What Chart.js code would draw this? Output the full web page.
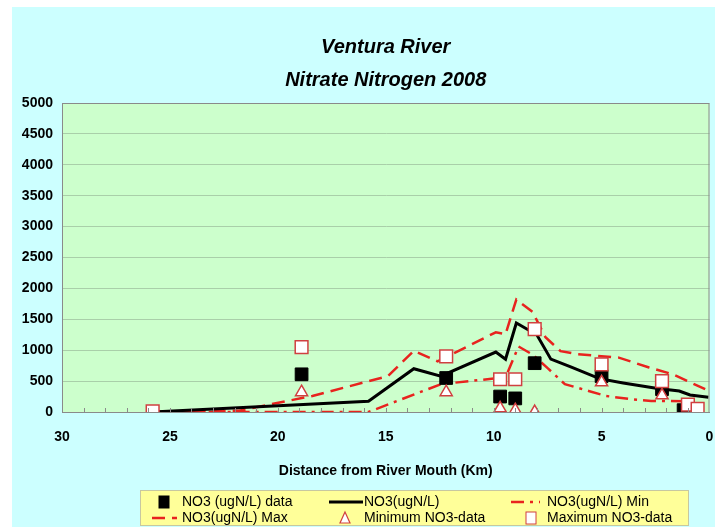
<!DOCTYPE html>
<html>
<head>
<meta charset="utf-8">
<script src="https://cdn.jsdelivr.net/npm/chart.js@4/dist/chart.umd.min.js"></script>
<style>
  html, body { margin: 0; padding: 0; background: #fff; }
  #wrap { width: 720px; height: 527px; }
</style>
</head>
<body>
<div id="wrap"><canvas id="myChart" width="720" height="527"></canvas></div>
<script>
// distances (km from river mouth) and NO3 values
const dataKm   = [18.9, 12.2, 9.7, 9.0, 8.1, 5.0, 2.2, 1.2];
const dataNO3  = [610, 550, 250, 220, 790, 580, 370, 30];

const minKm    = [18.9, 12.2, 9.7, 9.0, 8.1, 5.0, 2.2];
const minNO3   = [320, 320, 60, 30, 0, 480, 270];

const maxKm    = [25.8, 18.9, 12.2, 9.7, 9.0, 8.1, 5.0, 2.2, 1.0, 0.55];
const maxNO3   = [10, 1050, 900, 530, 530, 1340, 770, 500, 120, 50];

// model curves
const modelKm  = [25.8, 15.8, 13.7, 12.45, 9.9, 9.45, 8.95, 8.0, 7.35, 6.4, 5.1, 4.0, 2.4, 1.4, 0.9, 0.05];
const modelNO3 = [0, 175, 700, 580, 970, 855, 1440, 1250, 855, 725, 540, 470, 380, 340, 275, 240];

const modelMaxKm  = [25.8, 21.8, 18.4, 14.9, 13.7, 12.6, 9.9, 9.45, 8.95, 8.2, 7.6, 6.9, 6.1, 4.2, 2.8, 1.7, 0.2];
const modelMaxNO3 = [0, 20, 260, 580, 990, 820, 1290, 1260, 1820, 1620, 1210, 985, 935, 880, 720, 610, 370];

const modelMinKm  = [25.8, 15.8, 12.45, 9.9, 9.45, 8.85, 8.2, 7.5, 6.7, 5.6, 4.8, 3.7, 2.7, 1.1, 0.6];
const modelMinNO3 = [0, 0, 450, 545, 560, 1060, 930, 710, 450, 340, 260, 210, 180, 175, 120];

const xTicks = [30, 25, 20, 15, 10, 5, 0];
const yTicks = [0, 500, 1000, 1500, 2000, 2500, 3000, 3500, 4000, 4500, 5000];

const titleLines = ['Ventura River', 'Nitrate Nitrogen 2008'];

const RED = '#e8231e';

function pts(xs, ys) {
  return xs.map((x, i) => ({ x: x, y: ys[i] }));
}

// backgrounds, plot border, inside minor ticks, title
const decor = {
  id: 'decor',
  beforeDraw(chart) {
    const { ctx, chartArea: a } = chart;
    ctx.save();
    ctx.fillStyle = '#ffffff';
    ctx.fillRect(0, 0, chart.width, chart.height);
    ctx.fillStyle = '#ccffff';
    ctx.fillRect(12, 7, 703, 520);
    ctx.fillStyle = '#ccffcc';
    ctx.fillRect(a.left, a.top, a.right - a.left, a.bottom - a.top);
    ctx.restore();
  },
  afterDatasetsDraw(chart) {
    const { ctx, chartArea: a, scales } = chart;
    ctx.save();
    ctx.strokeStyle = '#8a8a8a';
    ctx.lineWidth = 1;
    ctx.strokeRect(a.left + 0.5, a.top + 0.5, a.right - a.left - 1, a.bottom - a.top);
    // minor tick marks every km, pointing into the plot
    ctx.beginPath();
    for (let k = 1; k < 30; k++) {
      const px = Math.round(scales.x.getPixelForValue(k)) + 0.5;
      ctx.moveTo(px, a.bottom);
      ctx.lineTo(px, a.bottom - 4);
    }
    ctx.stroke();
    // title
    ctx.fillStyle = '#000';
    ctx.font = 'italic bold 20px "Liberation Sans", Arial, sans-serif';
    ctx.textAlign = 'center';
    ctx.textBaseline = 'middle';
    const cx = (a.left + a.right) / 2;
    ctx.fillText(titleLines[0], cx, 47);
    ctx.fillText(titleLines[1], cx, 80);
    ctx.restore();
  }
};

// legend box in the style of the original (3 columns x 2 rows)
const boxLegend = {
  id: 'boxLegend',
  afterDraw(chart) {
    const { ctx } = chart;
    const ds = chart.data.datasets;
    ctx.save();
    ctx.fillStyle = '#ffff99';
    ctx.fillRect(140, 490, 549, 36);
    ctx.strokeStyle = '#c8c8a0';
    ctx.strokeRect(140.5, 490.5, 548, 35);
    ctx.font = '14px "Liberation Sans", Arial, sans-serif';
    ctx.textBaseline = 'middle';
    ctx.textAlign = 'left';
    const r1 = 502, r2 = 518;

    const items = [
      { ds: ds[2], kind: 'rect',  mx: 164, tx: 182, y: r1 },
      { ds: ds[3], kind: 'line',  mx: 329, mx2: 363, tx: 364, y: r1 },
      { ds: ds[5], kind: 'line',  mx: 511, mx2: 540, tx: 547, y: r1 },
      { ds: ds[4], kind: 'line',  mx: 152, mx2: 177, tx: 182, y: r2 },
      { ds: ds[1], kind: 'tri',   mx: 345, tx: 364, y: r2 },
      { ds: ds[0], kind: 'rect',  mx: 531, tx: 547, y: r2 }
    ];
    items.forEach(it => {
      const d = it.ds;
      if (it.kind === 'line') {
        ctx.strokeStyle = d.borderColor;
        ctx.lineWidth = d.borderWidth;
        ctx.setLineDash(d.borderDash || []);
        ctx.beginPath();
        ctx.moveTo(it.mx, it.y);
        ctx.lineTo(it.mx2, it.y);
        ctx.stroke();
        ctx.setLineDash([]);
      } else if (it.kind === 'rect') {
        ctx.fillStyle = d.pointBackgroundColor;
        ctx.strokeStyle = d.pointBorderColor;
        ctx.lineWidth = 1;
        ctx.fillRect(it.mx - 5, it.y - 6, 10, 12);
        ctx.strokeRect(it.mx - 5, it.y - 6, 10, 12);
      } else {
        ctx.fillStyle = d.pointBackgroundColor;
        ctx.strokeStyle = d.pointBorderColor;
        ctx.lineWidth = 1.2;
        ctx.beginPath();
        ctx.moveTo(it.mx, it.y - 6);
        ctx.lineTo(it.mx + 5, it.y + 5);
        ctx.lineTo(it.mx - 5, it.y + 5);
        ctx.closePath();
        ctx.fill();
        ctx.stroke();
      }
      ctx.fillStyle = '#000';
      ctx.fillText(d.label, it.tx, it.y);
    });
    ctx.restore();
  }
};

const config = {
  type: 'scatter',
  data: {
    datasets: [
      {
        label: 'Maximum NO3-data',
        data: pts(maxKm, maxNO3),
        pointStyle: 'rect',
        pointRadius: 9,
        pointBackgroundColor: '#ffffff',
        pointBorderColor: '#d04040',
        pointBorderWidth: 1.5,
        showLine: false,
        order: 0
      },
      {
        label: 'Minimum NO3-data',
        data: pts(minKm, minNO3),
        pointStyle: 'triangle',
        pointRadius: 7,
        pointBackgroundColor: '#ffffff',
        pointBorderColor: '#d04040',
        pointBorderWidth: 1.5,
        showLine: false,
        order: 1
      },
      {
        label: 'NO3 (ugN/L) data',
        data: pts(dataKm, dataNO3),
        pointStyle: 'rect',
        pointRadius: 9,
        pointBackgroundColor: '#000000',
        pointBorderColor: '#000000',
        pointBorderWidth: 1,
        showLine: false,
        order: 2
      },
      {
        label: 'NO3(ugN/L)',
        data: pts(modelKm, modelNO3),
        showLine: true,
        borderColor: '#000000',
        borderWidth: 3,
        pointRadius: 0,
        tension: 0,
        order: 3
      },
      {
        label: 'NO3(ugN/L) Max',
        data: pts(modelMaxKm, modelMaxNO3),
        showLine: true,
        borderColor: RED,
        borderWidth: 2.5,
        borderDash: [13, 7],
        pointRadius: 0,
        tension: 0,
        order: 4
      },
      {
        label: 'NO3(ugN/L) Min',
        data: pts(modelMinKm, modelMinNO3),
        showLine: true,
        borderColor: RED,
        borderWidth: 2.5,
        borderDash: [13, 6, 3, 6],
        pointRadius: 0,
        tension: 0,
        order: 5
      }
    ]
  },
  options: {
    responsive: false,
    animation: false,
    layout: { padding: { left: 12, right: 8, top: 103, bottom: 40 } },
    plugins: {
      legend: { display: false },
      title: { display: false },
      tooltip: { enabled: false }
    },
    scales: {
      x: {
        type: 'linear',
        reverse: true,
        min: 0,
        max: 30,
        afterFit(scale) { scale.height = 75; },
        afterBuildTicks(scale) { scale.ticks = xTicks.map(v => ({ value: v })); },
        border: { display: true, color: '#8a8a8a' },
        grid: {
          display: true,
          drawOnChartArea: false,
          drawTicks: true,
          tickLength: 14,
          tickColor: 'rgba(0,0,0,0)'
        },
        ticks: {
          padding: 3,
          color: '#000',
          maxRotation: 0,
          font: { family: '"Liberation Sans", Arial, sans-serif', size: 14, weight: 'bold' }
        },
        title: {
          display: true,
          text: 'Distance from River Mouth (Km)',
          color: '#000',
          padding: { top: 0, bottom: 7 },
          font: { family: '"Liberation Sans", Arial, sans-serif', size: 14, weight: 'bold' }
        }
      },
      y: {
        min: 0,
        max: 5000,
        afterFit(scale) { scale.width = 50; },
        afterBuildTicks(scale) { scale.ticks = yTicks.map(v => ({ value: v })); },
        border: { display: true, color: '#8a8a8a' },
        grid: { color: '#a9cfa9', lineWidth: 1, drawTicks: false },
        ticks: {
          padding: 9,
          color: '#000',
          callback: v => String(v),
          font: { family: '"Liberation Sans", Arial, sans-serif', size: 14, weight: 'bold' }
        }
      }
    }
  },
  plugins: [decor, boxLegend]
};

const myChart = new Chart(document.getElementById('myChart'), config);
</script>
</body>
</html>
